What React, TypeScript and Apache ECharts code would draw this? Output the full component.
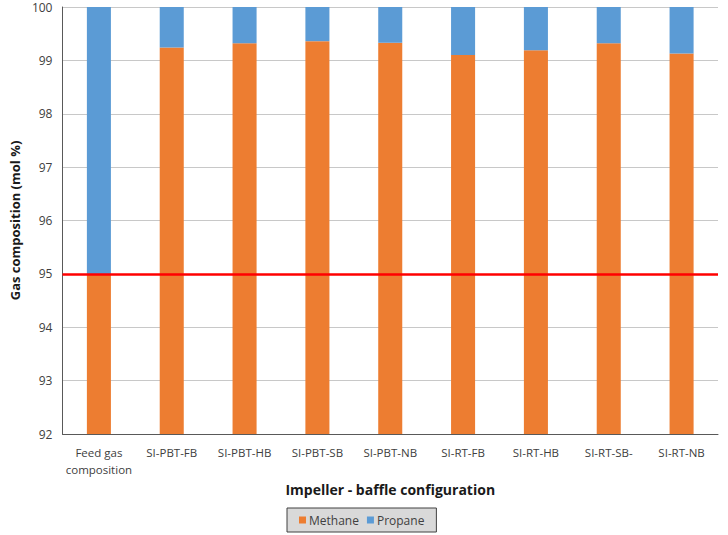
import React, { useEffect, useRef } from "react";
import * as echarts from "echarts";

const categories = [
  "Feed gas\ncomposition",
  "SI-PBT-FB",
  "SI-PBT-HB",
  "SI-PBT-SB",
  "SI-PBT-NB",
  "SI-RT-FB",
  "SI-RT-HB",
  "SI-RT-SB-",
  "SI-RT-NB",
];
const methane = [95, 99.24, 99.32, 99.36, 99.33, 99.1, 99.19, 99.32, 99.13];
const propane = methane.map((m) => +(100 - m).toFixed(2));
const referenceLevel = 95;
const yMin = 92;
const yMax = 100;

export default function App() {
  const ref = useRef<HTMLDivElement>(null);
  useEffect(() => {
    if (!ref.current) return;
    const chart = echarts.init(ref.current, undefined, { renderer: "svg" });
    const font = "'Open Sans', 'Liberation Sans', sans-serif";
    chart.setOption({
      animation: false,
      textStyle: { fontFamily: font },
      grid: { left: 52, right: 10, top: 7, bottom: 101 },
      legend: {
        data: ["Methane", "Propane"],
        left: 287,
        top: 508,
        width: 149,
        padding: [6, 12, 6, 12],
        backgroundColor: "#d9d9d9",
        borderColor: "#404040",
        borderWidth: 1,
        icon: "rect",
        itemWidth: 7,
        itemHeight: 7,
        itemGap: 8,
        textStyle: { fontSize: 12, color: "#404040", fontFamily: font, padding: [0, 0, 0, -2] },
      },
      xAxis: {
        type: "category",
        data: categories,
        name: "Impeller - baffle configuration",
        nameLocation: "middle",
        nameGap: 48,
        nameTextStyle: { fontSize: 14, fontWeight: "bold", color: "#1a1a1a", fontFamily: font },
        axisLine: { lineStyle: { color: "#595959", width: 1 } },
        axisTick: { show: false },
        axisLabel: { fontSize: 11.5, color: "#404040", margin: 10, lineHeight: 17, interval: 0 },
      },
      yAxis: {
        type: "value",
        min: yMin,
        max: yMax,
        interval: 1,
        name: "Gas composition (mol %)",
        nameLocation: "middle",
        nameGap: 34,
        nameTextStyle: { fontSize: 13, fontWeight: "bold", color: "#1a1a1a", fontFamily: font },
        axisLine: { show: true, lineStyle: { color: "#595959", width: 1 } },
        axisTick: { show: false },
        axisLabel: { fontSize: 12, color: "#404040", margin: 10 },
        splitLine: { lineStyle: { color: "#c8c8c8", width: 1 } },
      },
      series: [
        {
          name: "Methane",
          type: "bar",
          stack: "total",
          barWidth: "33%",
          data: methane,
          itemStyle: { color: "#ED7D31" },
          markLine: {
            silent: true,
            symbol: ["none", "none"],
            label: { show: false },
            lineStyle: { color: "#ff0000", width: 2.5, type: "solid" },
            data: [{ yAxis: referenceLevel }],
          },
        },
        {
          name: "Propane",
          type: "bar",
          stack: "total",
          barWidth: "33%",
          data: propane,
          itemStyle: { color: "#5B9BD5" },
        },
      ],
    });
    return () => chart.dispose();
  }, []);
  return (
    <div
      ref={ref}
      style={{ position: "fixed", left: 0, top: 0, width: 728, height: 535, background: "#fff" }}
    />
  );
}
